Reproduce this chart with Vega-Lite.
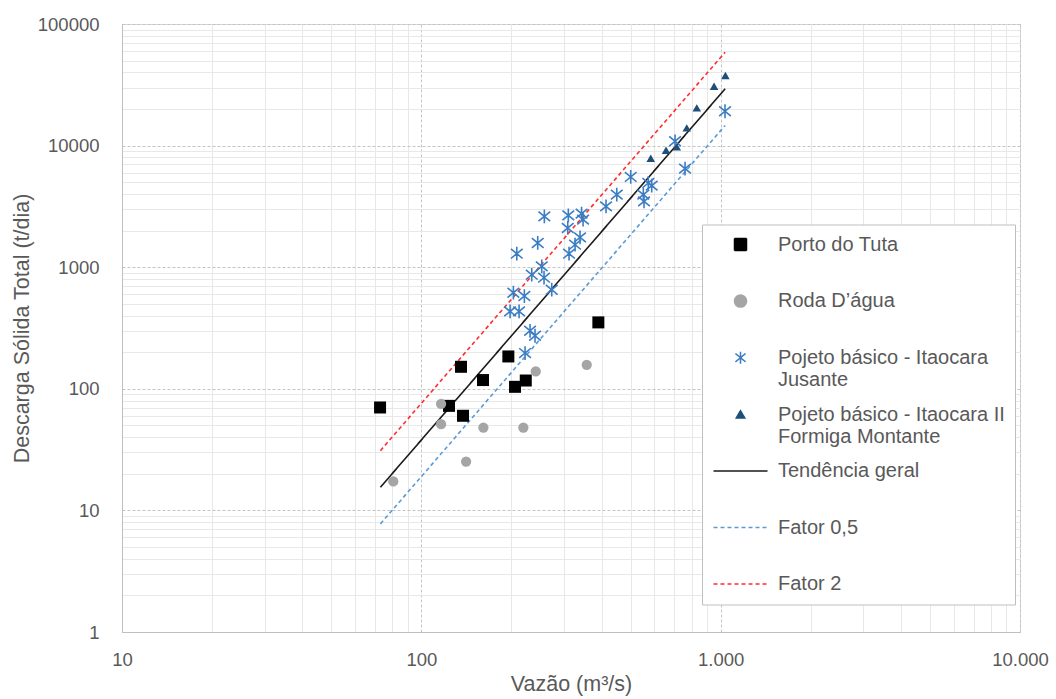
{
  "$schema": "https://vega.github.io/schema/vega-lite/v6.json",
  "width": 898,
  "height": 608,
  "autosize": {"type": "none"},
  "padding": {"left": 122, "top": 24, "right": 36, "bottom": 67},
  "background": "#ffffff",
  "config": {
    "font": "Liberation Sans",
    "view": {"stroke": "#d9d9d9", "strokeWidth": 1},
    "legend": {
      "orient": "none",
      "legendX": 580,
      "legendY": 200.5,
      "direction": "vertical",
      "columns": 1,
      "padding": 10,
      "strokeColor": "#bfbfbf",
      "fillColor": "#ffffff",
      "symbolSize": 144,
      "symbolStrokeWidth": 1.5,
      "symbolOffset": 18.5,
      "labelOffset": 27.5,
      "labelFontSize": 20,
      "labelColor": "#595959",
      "labelFont": "Liberation Sans",
      "labelLimit": 400,
      "labelBaseline": "top",
      "rowPadding": 13.6
    }
  },
  "data": {
    "values": [
      {"serie": "Porto do Tuta", "vazao": 72.8, "descarga": 70.2},
      {"serie": "Porto do Tuta", "vazao": 135.7, "descarga": 151.7},
      {"serie": "Porto do Tuta", "vazao": 160.7, "descarga": 118},
      {"serie": "Porto do Tuta", "vazao": 123.7, "descarga": 72.4},
      {"serie": "Porto do Tuta", "vazao": 137.8, "descarga": 60},
      {"serie": "Porto do Tuta", "vazao": 195.3, "descarga": 184.5},
      {"serie": "Porto do Tuta", "vazao": 205.6, "descarga": 103.8},
      {"serie": "Porto do Tuta", "vazao": 223.3, "descarga": 117},
      {"serie": "Porto do Tuta", "vazao": 390.3, "descarga": 351.6},

      {"serie": "Roda D’água", "vazao": 116.4, "descarga": 75.3},
      {"serie": "Roda D’água", "vazao": 116.4, "descarga": 51.2},
      {"serie": "Roda D’água", "vazao": 161.2, "descarga": 48},
      {"serie": "Roda D’água", "vazao": 219.2, "descarga": 48},
      {"serie": "Roda D’água", "vazao": 241.1, "descarga": 138.8},
      {"serie": "Roda D’água", "vazao": 356.9, "descarga": 157.6},
      {"serie": "Roda D’água", "vazao": 141.1, "descarga": 25.2},
      {"serie": "Roda D’água", "vazao": 80.6, "descarga": 17.3},

      {"serie": "Pojeto básico - Itaocara Jusante", "vazao": 257.6, "descarga": 2618},
      {"serie": "Pojeto básico - Itaocara Jusante", "vazao": 309.8, "descarga": 2669},
      {"serie": "Pojeto básico - Itaocara Jusante", "vazao": 343, "descarga": 2756},
      {"serie": "Pojeto básico - Itaocara Jusante", "vazao": 347, "descarga": 2460},
      {"serie": "Pojeto básico - Itaocara Jusante", "vazao": 308.4, "descarga": 2102},
      {"serie": "Pojeto básico - Itaocara Jusante", "vazao": 339, "descarga": 1759},
      {"serie": "Pojeto básico - Itaocara Jusante", "vazao": 326.3, "descarga": 1532},
      {"serie": "Pojeto básico - Itaocara Jusante", "vazao": 244.8, "descarga": 1582},
      {"serie": "Pojeto básico - Itaocara Jusante", "vazao": 311.5, "descarga": 1292},
      {"serie": "Pojeto básico - Itaocara Jusante", "vazao": 208.4, "descarga": 1292},
      {"serie": "Pojeto básico - Itaocara Jusante", "vazao": 252.5, "descarga": 1015},
      {"serie": "Pojeto básico - Itaocara Jusante", "vazao": 257, "descarga": 820},
      {"serie": "Pojeto básico - Itaocara Jusante", "vazao": 233.8, "descarga": 868},
      {"serie": "Pojeto básico - Itaocara Jusante", "vazao": 272.7, "descarga": 653},
      {"serie": "Pojeto básico - Itaocara Jusante", "vazao": 203, "descarga": 617},
      {"serie": "Pojeto básico - Itaocara Jusante", "vazao": 220.9, "descarga": 579},
      {"serie": "Pojeto básico - Itaocara Jusante", "vazao": 197.9, "descarga": 433},
      {"serie": "Pojeto básico - Itaocara Jusante", "vazao": 212.1, "descarga": 433},
      {"serie": "Pojeto básico - Itaocara Jusante", "vazao": 230.8, "descarga": 300},
      {"serie": "Pojeto básico - Itaocara Jusante", "vazao": 239.8, "descarga": 273},
      {"serie": "Pojeto básico - Itaocara Jusante", "vazao": 222.1, "descarga": 196.7},
      {"serie": "Pojeto básico - Itaocara Jusante", "vazao": 414, "descarga": 3166},
      {"serie": "Pojeto básico - Itaocara Jusante", "vazao": 449.7, "descarga": 3952},
      {"serie": "Pojeto básico - Itaocara Jusante", "vazao": 500.6, "descarga": 5526},
      {"serie": "Pojeto básico - Itaocara Jusante", "vazao": 551.6, "descarga": 3952},
      {"serie": "Pojeto básico - Itaocara Jusante", "vazao": 554.6, "descarga": 3480},
      {"serie": "Pojeto básico - Itaocara Jusante", "vazao": 573.2, "descarga": 4932},
      {"serie": "Pojeto básico - Itaocara Jusante", "vazao": 588.4, "descarga": 4686},
      {"serie": "Pojeto básico - Itaocara Jusante", "vazao": 704.1, "descarga": 10850},
      {"serie": "Pojeto básico - Itaocara Jusante", "vazao": 760.3, "descarga": 6467},
      {"serie": "Pojeto básico - Itaocara Jusante", "vazao": 1034, "descarga": 19160},

      {"serie": "Pojeto básico - Itaocara II Formiga Montante", "vazao": 584, "descarga": 7863},
      {"serie": "Pojeto básico - Itaocara II Formiga Montante", "vazao": 657, "descarga": 9150},
      {"serie": "Pojeto básico - Itaocara II Formiga Montante", "vazao": 713.4, "descarga": 9757},
      {"serie": "Pojeto básico - Itaocara II Formiga Montante", "vazao": 770.4, "descarga": 13990},
      {"serie": "Pojeto básico - Itaocara II Formiga Montante", "vazao": 832.2, "descarga": 20430},
      {"serie": "Pojeto básico - Itaocara II Formiga Montante", "vazao": 950.6, "descarga": 30760},
      {"serie": "Pojeto básico - Itaocara II Formiga Montante", "vazao": 1037, "descarga": 37680},

      {"serie": "Tendência geral", "vazao": 73, "descarga": 15.5},
      {"serie": "Tendência geral", "vazao": 1035, "descarga": 29300},
      {"serie": "Fator 0,5", "vazao": 73, "descarga": 7.75},
      {"serie": "Fator 0,5", "vazao": 1035, "descarga": 14650},
      {"serie": "Fator 2", "vazao": 73, "descarga": 31},
      {"serie": "Fator 2", "vazao": 1035, "descarga": 58600}
    ]
  },
  "encoding": {
    "x": {
      "field": "vazao",
      "type": "quantitative",
      "scale": {"type": "log", "domain": [10, 10000], "nice": false},
      "axis": {
        "title": "Vazão (m³/s)",
        "values": [10, 20, 30, 40, 50, 60, 70, 80, 90, 100, 200, 300, 400, 500, 600, 700, 800, 900, 1000, 2000, 3000, 4000, 5000, 6000, 7000, 8000, 9000, 10000],
        "labelExpr": "indexof([10, 100, 1000, 10000], datum.value) >= 0 ? replace(format(datum.value, ','), ',', '.') : ''",
        "ticks": false,
        "domainColor": "#bfbfbf",
        "gridColor": {"condition": {"test": "indexof([10, 100, 1000, 10000], datum.value) >= 0", "value": "#c4c4c4"}, "value": "#e8e8e8"},
        "gridDash": {"condition": {"test": "indexof([10, 100, 1000, 10000], datum.value) >= 0", "value": [3, 2]}, "value": []},
        "gridWidth": 1,
        "labelFontSize": 18.5,
        "labelColor": "#595959",
        "labelFlush": false,
        "labelOverlap": false,
        "labelBound": false,
        "labelPadding": 18,
        "titleFontSize": 21.5,
        "titleFontWeight": "normal",
        "titleColor": "#595959",
        "titlePadding": 5
      }
    },
    "y": {
      "field": "descarga",
      "type": "quantitative",
      "scale": {"type": "log", "domain": [1, 100000], "nice": false},
      "axis": {
        "title": "Descarga Sólida Total (t/dia)",
        "values": [1, 2, 3, 4, 5, 6, 7, 8, 9, 10, 20, 30, 40, 50, 60, 70, 80, 90, 100, 200, 300, 400, 500, 600, 700, 800, 900, 1000, 2000, 3000, 4000, 5000, 6000, 7000, 8000, 9000, 10000, 20000, 30000, 40000, 50000, 60000, 70000, 80000, 90000, 100000],
        "labelExpr": "indexof([1, 10, 100, 1000, 10000, 100000], datum.value) >= 0 ? format(datum.value, 'd') : ''",
        "ticks": false,
        "domainColor": "#bfbfbf",
        "gridColor": {"condition": {"test": "indexof([1, 10, 100, 1000, 10000, 100000], datum.value) >= 0", "value": "#c4c4c4"}, "value": "#e8e8e8"},
        "gridDash": {"condition": {"test": "indexof([1, 10, 100, 1000, 10000, 100000], datum.value) >= 0", "value": [3, 2]}, "value": []},
        "gridWidth": 1,
        "labelFontSize": 18.5,
        "labelColor": "#595959",
        "labelFlush": false,
        "labelOverlap": false,
        "labelBound": false,
        "labelPadding": 23,
        "titleFontSize": 21.5,
        "titleFontWeight": "normal",
        "titleColor": "#595959",
        "titlePadding": 4
      }
    },
    "color": {
      "field": "serie",
      "type": "nominal",
      "scale": {
        "domain": ["Porto do Tuta", "Roda D’água", "Pojeto básico - Itaocara Jusante", "Pojeto básico - Itaocara II Formiga Montante", "Tendência geral", "Fator 0,5", "Fator 2"],
        "range": ["#000000", "#a5a5a5", "#3b7dc4", "#1f4e79", "#1a1a1a", "#5b9bd5", "#ff2d2d"]
      },
      "legend": {
        "title": null,
        "labelExpr": "datum.label === 'Pojeto básico - Itaocara Jusante' ? ['Pojeto básico - Itaocara', 'Jusante'] : datum.label === 'Pojeto básico - Itaocara II Formiga Montante' ? ['Pojeto básico - Itaocara II', 'Formiga Montante'] : datum.label === 'Fator 2' ? datum.label : [datum.label, '']",
        "encode": {
          "labels": {
            "update": {
              "dy": {"value": -9.8},
              "lineHeight": {"value": 22.5}
            }
          }
        }
      }
    }
  },
  "layer": [
    {
      "transform": [{"filter": "indexof(['Tendência geral', 'Fator 0,5', 'Fator 2'], datum.serie) >= 0"}],
      "mark": {"type": "line", "strokeWidth": 1.6},
      "encoding": {
        "strokeDash": {
          "field": "serie",
          "type": "nominal",
          "scale": {
            "domain": ["Porto do Tuta", "Roda D’água", "Pojeto básico - Itaocara Jusante", "Pojeto básico - Itaocara II Formiga Montante", "Tendência geral", "Fator 0,5", "Fator 2"],
            "range": [[1, 0], [1, 0], [1, 0], [1, 0], [1, 0], [4, 3], [4, 3]]
          },
          "legend": {"title": null}
        }
      }
    },
    {
      "transform": [{"filter": "datum.serie !== 'Tendência geral' && datum.serie !== 'Fator 0,5' && datum.serie !== 'Fator 2'"}],
      "encoding": {
        "shape": {
          "field": "serie",
          "type": "nominal",
          "scale": {
            "domain": ["Porto do Tuta", "Roda D’água", "Pojeto básico - Itaocara Jusante", "Pojeto básico - Itaocara II Formiga Montante", "Tendência geral", "Fator 0,5", "Fator 2"],
            "range": ["square", "circle", "M0,-1V1M-0.85,-0.7L0.85,0.7M-0.85,0.7L0.85,-0.7", "M0,-0.6L0.7,0.6H-0.7Z", "M-4.5,0H4.5", "M-4.5,0H4.5", "M-4.5,0H4.5"]
          },
          "legend": {"title": null}
        }
      },
      "layer": [
        {
          "transform": [{"filter": "datum.serie === 'Porto do Tuta'"}],
          "mark": {"type": "point", "filled": true, "size": 144, "opacity": 1}
        },
        {
          "transform": [{"filter": "datum.serie === 'Roda D’água'"}],
          "mark": {"type": "point", "filled": true, "size": 105, "opacity": 1}
        },
        {
          "transform": [{"filter": "datum.serie === 'Pojeto básico - Itaocara Jusante'"}],
          "mark": {"type": "point", "filled": false, "size": 190, "strokeWidth": 1.6, "opacity": 1}
        },
        {
          "transform": [{"filter": "datum.serie === 'Pojeto básico - Itaocara II Formiga Montante'"}],
          "mark": {"type": "point", "filled": true, "size": 150, "opacity": 1}
        }
      ]
    }
  ]
}
